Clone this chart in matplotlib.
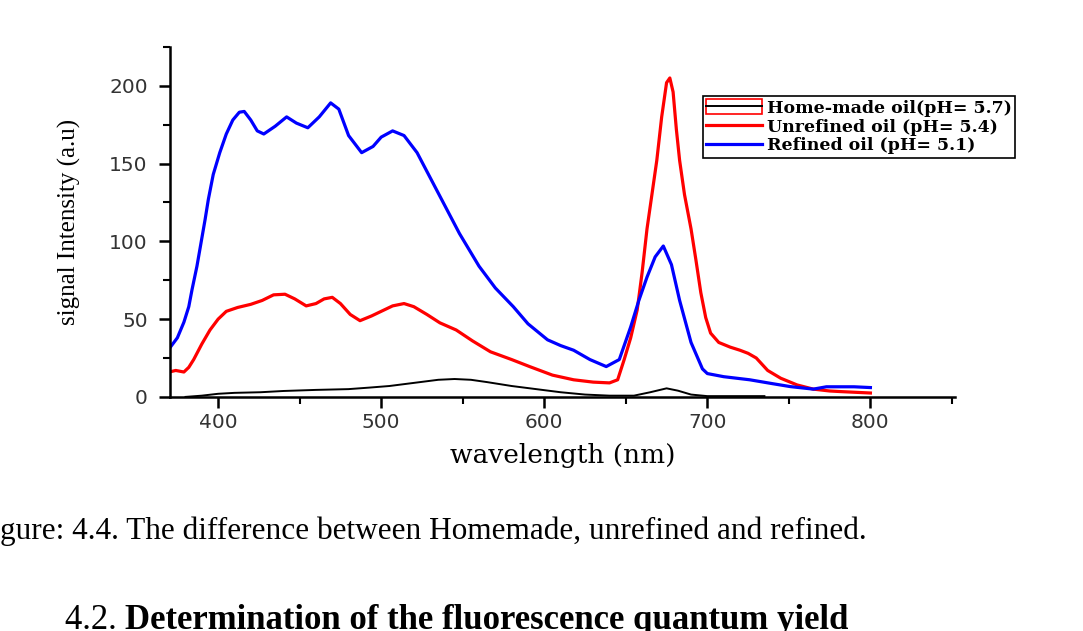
import numpy as np
import matplotlib
matplotlib.use('Agg')
import matplotlib.pyplot as plt
from matplotlib.patches import Rectangle
from matplotlib.ticker import MultipleLocator

# wavelength (nm) / intensity (a.u.)
refined_x = [370, 375, 379, 382, 384, 387, 389, 392, 394, 397, 401, 405, 409, 413, 416, 420, 424, 428,
             435, 442, 448, 455, 462, 469, 474, 480, 488, 495, 500, 507, 514, 522, 534, 548, 560, 570,
             581, 590, 602, 610, 618, 628, 638, 646, 653, 658, 663, 668, 673, 678, 683, 690, 697, 700,
             710, 726, 740, 751, 765, 773, 790, 800]
refined_y = [31, 38, 48, 58, 69, 84, 96, 114, 127, 143, 157, 169, 178, 183, 183.5, 178, 171, 169,
             174, 180, 176, 173, 180, 189, 185, 168, 157, 161, 167, 171, 168, 157, 133, 105, 84, 70,
             58, 47, 36.7, 33, 30, 24, 19.5, 24, 45, 62, 77, 90, 97, 85, 62, 35, 18, 15,
             13, 11, 8.5, 6.6, 5, 6.5, 6.5, 6]

unrefined_x = [370, 374, 379, 382, 385, 390, 395, 400, 405, 412, 420, 427, 434, 441, 447, 454, 460, 465,
               470, 475, 481, 487, 494, 500, 507, 514, 520, 528, 536, 546, 556, 567, 580, 591, 605, 618,
               630, 640, 645, 649, 653, 657, 660, 663, 666, 669, 672, 675, 677, 679, 681, 683, 686, 690,
               693, 696, 699, 702, 707, 714, 720, 725, 730, 737, 745, 755, 765, 775, 782, 790, 800]
unrefined_y = [16, 17, 16, 19, 24, 34, 43, 50, 55, 57.5, 59.5, 62, 65.6, 66, 63, 58.5, 60, 63,
               64, 60, 53, 49, 52, 55, 58.5, 60, 58, 53, 47.6, 43, 36, 29, 24, 19.5, 14, 11,
               9.5, 9, 11, 24, 38, 56, 80, 108, 130, 152, 180, 202, 205, 196, 172, 152, 130, 108,
               88, 67, 51, 41, 35, 32, 30, 28, 25, 17, 12, 7.7, 5, 3.8, 3.4, 3, 2.5]

homemade_x = [380, 390, 400, 410, 426, 440, 460, 480, 493, 505, 520, 535, 545, 555, 565, 580, 595, 610,
              625, 640, 655, 665, 675, 682, 690, 700, 735]
homemade_y = [0, 0.8, 2, 2.6, 3, 3.8, 4.5, 5, 6, 7, 9, 11, 11.5, 11, 9.5, 7, 5, 3,
              1.5, 0.8, 0.8, 3, 5.5, 4, 1.5, 0.5, 0.5]

labels = ['Home-made oil(pH= 5.7)', 'Unrefined oil (pH= 5.4)', 'Refined oil (pH= 5.1)']

fig = plt.figure(figsize=(10.83, 6.31), dpi=100)
ax = fig.add_axes([0.157, 0.371, 0.725, 0.5547])

l_home, = ax.plot(homemade_x, homemade_y, color='black', lw=1.4)
l_unref, = ax.plot(unrefined_x, unrefined_y, color='#ff0000', lw=2.3)
l_ref, = ax.plot(refined_x, refined_y, color='#0000ff', lw=2.3)

ax.set_xlim(370.5, 852)
ax.set_ylim(0, 225)
ax.spines['top'].set_visible(False)
ax.spines['right'].set_visible(False)
for s in ['left', 'bottom']:
    ax.spines[s].set_linewidth(1.8)

ax.xaxis.set_major_locator(MultipleLocator(100))
ax.xaxis.set_minor_locator(MultipleLocator(50))
ax.yaxis.set_major_locator(MultipleLocator(50))
ax.yaxis.set_minor_locator(MultipleLocator(25))
ax.tick_params(which='major', direction='out', length=8, width=1.8, labelsize=14.5,
               labelcolor='#333333')
ax.tick_params(which='minor', direction='out', length=5, width=1.5)
ax.tick_params(axis='y', pad=8)

ax.set_xlabel('wavelength (nm)', family='DejaVu Serif', fontsize=19, labelpad=8)
ax.set_ylabel('signal Intensity (a.u)', family='Liberation Serif', fontsize=18, labelpad=20)

box = Rectangle((0, 0), 1, 1, facecolor='none', edgecolor='#ff0000', lw=1.2)
leg = fig.legend([(box, l_home), l_unref, l_ref], labels,
                 loc='upper left', bbox_to_anchor=(0.649, 0.848),
                 prop={'family': 'DejaVu Serif', 'weight': 'bold', 'size': 12.5},
                 frameon=True, fancybox=False, framealpha=1, edgecolor='black',
                 handlelength=3.2, handleheight=0.9, handletextpad=0.3,
                 labelspacing=0.1, borderpad=0.2, borderaxespad=0)
leg.get_frame().set_linewidth(1.2)

# caption and next heading (cut off by the page edges)
fig.text(0.0, 0.146, 'gure: 4.4. The difference between Homemade, unrefined and refined.',
         family='Liberation Serif', fontsize=22.5, va='baseline', ha='left')
num = fig.text(0.06, -0.009, '4.2. ', family='Liberation Serif', fontsize=25,
               va='bottom', ha='left')
ax.annotate('Determination of the fluorescence quantum yield', xy=(1, 0), xycoords=num,
            family='Liberation Serif', fontsize=25, weight='bold',
            va='bottom', ha='left', annotation_clip=False)

fig.savefig('out.png', dpi=100)
